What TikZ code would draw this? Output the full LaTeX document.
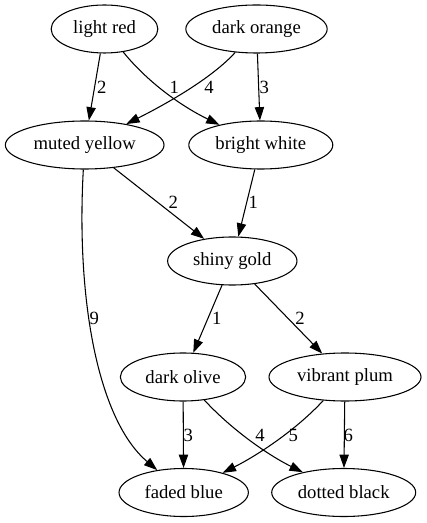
\documentclass[tikz,border=0pt]{standalone}
\usepackage{fontspec}
\setmainfont{Liberation Serif}
\usetikzlibrary{arrows.meta,shapes.geometric}
\tikzset{
  nd/.style={draw, ellipse, line width=0.8pt, minimum height=36pt, inner sep=0pt, font=\fontsize{14pt}{16pt}\selectfont},
  edge/.style={draw, line width=0.8pt, -{Triangle[length=10pt,width=7pt]}},
  lbl/.style={inner sep=0pt, font=\fontsize{14pt}{16pt}\selectfont}
}
\begin{document}
\begin{tikzpicture}[x=0.75pt, y=-0.75pt]
\useasboundingbox (0,0) rectangle (426,523);
% nodes
\node[nd, minimum width=80pt]  (lr) at (104.5,29) {light red};
\node[nd, minimum width=106pt] (do) at (256.5,29) {dark orange};
\node[nd, minimum width=119pt] (my) at (84.7,145) {muted yellow};
\node[nd, minimum width=108pt] (bw) at (260.8,145) {bright white};
\node[nd, minimum width=97pt]  (sg) at (232.3,261) {shiny gold};
\node[nd, minimum width=94pt]  (dol) at (183,377) {dark olive};
\node[nd, minimum width=114pt] (vp) at (345,377) {vibrant plum};
\node[nd, minimum width=97pt]  (fb) at (183.7,492.5) {faded blue};
\node[nd, minimum width=108pt] (db) at (343.7,492.5) {dotted black};
% edges
\draw[edge] (lr) -- (my);
\draw[edge] (lr) .. controls (150,85) and (185,108) .. (bw);
\draw[edge] (do) .. controls (212,78) and (168,103) .. (my);
\draw[edge] (do) -- (bw);
\draw[edge] (my) -- (sg);
\draw[edge] (bw) -- (sg);
\draw[edge] (my) .. controls (76,300) and (98,420) .. (fb);
\draw[edge] (sg) -- (dol);
\draw[edge] (sg) -- (vp);
\draw[edge] (dol) -- (fb);
\draw[edge] (dol) .. controls (232,430) and (268,455) .. (db);
\draw[edge] (vp) .. controls (296,430) and (258,455) .. (fb);
\draw[edge] (vp) -- (db);
% labels
\node[lbl] (l1) at (101.7,87) {2};
\node[lbl] (l2) at (174.3,87) {1};
\node[lbl] (l3) at (209,87) {4};
\node[lbl] (l4) at (264.3,87) {3};
\node[lbl] (l5) at (173.3,202) {2};
\node[lbl] (l6) at (253.3,202) {1};
\node[lbl] (l7) at (94.3,318) {9};
\node[lbl] (l8) at (216.7,318) {1};
\node[lbl] (l9) at (300,318) {2};
\node[lbl] (l10) at (188.3,435) {3};
\node[lbl] (l11) at (260,435) {4};
\node[lbl] (l12) at (293.3,435) {5};
\node[lbl] (l13) at (348.3,435) {6};
\end{tikzpicture}
\end{document}
